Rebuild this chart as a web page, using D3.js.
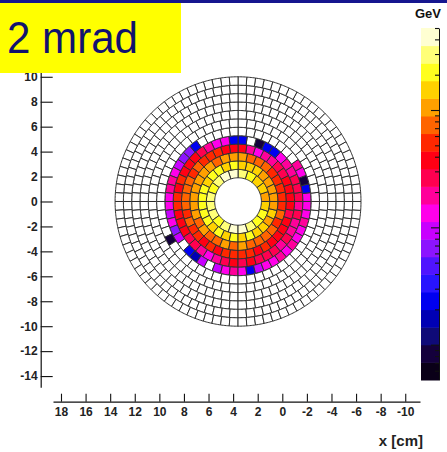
<!DOCTYPE html>
<html><head><meta charset="utf-8">
<script src="https://cdn.jsdelivr.net/npm/d3@7"></script>
<style>body{margin:0;background:#fff}svg{display:block}</style>
</head><body>
<script>
// ---------------- data ----------------
const title = "2 mrad";
const xLabel = "x [cm]";
const zUnit = "GeV";
const xTicks = [18,16,14,12,10,8,6,4,2,0,-2,-4,-6,-8,-10];
const yTicks = [10,8,6,4,2,0,-2,-4,-6,-8,-10,-12,-14];
const zRange = [0.5, 500];                 // colour axis (log), GeV
const zMajor = [1, 10, 100];
const zMinor = [0.6,0.7,0.8,0.9,2,3,4,5,6,7,8,9,20,30,40,50,60,70,80,90,200,300,400,500];
const center = [3.6, 0];                   // cm
const rInner = 1.9, rOuter = 10.0;         // cm
const segments = [20,28,32,40,44,52,56,64,72,76,84,88];   // pads per ring
// energy per pad (GeV), ring by ring, pads counter-clockwise from screen-right
const ring0 = [106,150,150,211,300,420,420,300,211,300,300,300,211,300,420,420,300,211,211,150];
const ring1 = [106,106,106,106,150,150,150,211,150,211,211,150,211,211,211,211,211,150,211,150,211,150,211,150,150,106,150,106];
const ring2 = [53,53,53,53,75,75,75,106,106,106,75,106,106,106,106,106,106,106,75,106,75,75,106,75,106,75,75,75,75,53,75,53];
const ring3 = [38,38,38,27,27,19,19,13,19,38,38,38,53,53,53,75,53,75,75,75,75,53,75,53,53,38,53,38,53,53,53,53,38,53,38,38,38,38,27,38];
const ring4 = [27,27,27,19,19,13,2.4,2.4,0.85,0,2.4,2.4,13,13,19,27,38,38,38,53,38,53,53,38,38,38,27,27,19,13,19,27,38,27,38,27,27,27,19,27,19,19,27,19];
const ring5 = [13,2.4,0.85,13,19,0,0,0,0,0,0,0,0,0,0,0,0,0,2.4,6.7,6.7,9.4,13,19,19,13,13,9.4,13,6.7,9.4,0,2.4,1.7,9.4,0,9.4,13,19,13,2.4,9.4,13,13,19,13,19,13,13,19,13,13];
const ring6 = [0,0,0,0,0,0,0,0,0,0,0,0,0,0,0,0,0,0,0,0,0,0,0,0,0,0,0,0,0,0,0,0,0.85,0,0,0,0,0,0,0,0,0,0,0,0,0,0,0,0,0,0,0,0,0,0,0];
const palette = ["#0a0018","#14003c","#0f0a78","#0000b4","#0000f0","#2814ff","#5014ff","#8c14ff","#c800ff","#ff00ea",
                 "#ff009a","#ff0050","#ff0014","#ff2800","#ff6400","#ffa000","#ffd200","#ffff1e","#ffff78","#ffffd2"];
const rings = [ring0, ring1, ring2, ring3, ring4, ring5, ring6];

// ---------------- drawing ----------------
const W = 447, H = 452;
const svg = d3.select("body").append("svg").attr("width", W).attr("height", H);
svg.append("rect").attr("width", W).attr("height", H).attr("fill", "#fff");

const x = d3.scaleLinear().domain([18.65, -11.2]).range([53, 420]);
const y = d3.scaleLinear().domain([-14.9, 10.6]).range([387.3, 69.3]);
const zLog = d3.scaleLog().domain(zRange).range([380, 28]);
const zCol = d3.scaleQuantize().domain(zRange.map(Math.log10)).range(palette);

// pads
const dr = (rOuter - rInner) / segments.length;
const cells = [];
segments.forEach((n, i) => {
  for (let j = 0; j < n; j++) {
    const e = rings[i] ? rings[i][j] : 0;
    cells.push({ i, j, n, e });
  }
});
const line = d3.line().x(d => x(d[0])).y(d => y(d[1]));
function padPath(c) {
  const r0 = rInner + c.i * dr, r1 = r0 + dr;
  const a0 = c.j * 2 * Math.PI / c.n, a1 = (c.j + 1) * 2 * Math.PI / c.n;
  const pts = [], k = 6;
  for (let s = 0; s <= k; s++) { const a = a0 + (a1 - a0) * s / k; pts.push([center[0] - r1 * Math.cos(a), center[1] + r1 * Math.sin(a)]); }
  for (let s = k; s >= 0; s--) { const a = a0 + (a1 - a0) * s / k; pts.push([center[0] - r0 * Math.cos(a), center[1] + r0 * Math.sin(a)]); }
  return line(pts) + "Z";
}
svg.append("g").selectAll("path").data(cells).join("path")
  .attr("d", padPath)
  .attr("fill", d => d.e > 0 ? zCol(Math.log10(d.e)) : "#fff")
  .attr("stroke", "#303030").attr("stroke-width", 1);

// axes
const axisFont = "'Liberation Sans', Arial, sans-serif";
const fmt = d => String(d);
const gx = svg.append("g").attr("transform", "translate(0,401.7)")
  .call(d3.axisBottom(x).tickValues(xTicks).tickFormat(fmt).tickSizeInner(-8).tickSizeOuter(0).tickPadding(6));
const gy = svg.append("g").attr("transform", "translate(40.7,0)")
  .call(d3.axisLeft(y).tickValues(yTicks).tickFormat(fmt).tickSizeInner(-12).tickSizeOuter(0).tickPadding(3));
[gx, gy].forEach(g => {
  g.selectAll("path.domain").attr("stroke", "#111").attr("stroke-width", 1.2);
  g.selectAll(".tick line").attr("stroke", "#111").attr("stroke-width", 1.1);
  g.selectAll("text").attr("font-family", axisFont).attr("font-weight", "bold").attr("font-size", 12).attr("fill", "#222");
});
svg.append("text").attr("x", 423).attr("y", 446).attr("text-anchor", "end")
  .attr("font-family", axisFont).attr("font-weight", "bold").attr("font-size", 15).attr("fill", "#222").text(xLabel);

// colour bar
const bands = d3.range(palette.length).map(b => {
  const [l0, l1] = zCol.invertExtent(palette[b]);
  return { b, v0: Math.pow(10, l0), v1: Math.pow(10, l1) };
});
svg.append("g").selectAll("rect").data(bands).join("rect")
  .attr("x", 421).attr("width", 18)
  .attr("y", d => zLog(d.v1)).attr("height", d => zLog(d.v0) - zLog(d.v1) + 0.5)
  .attr("fill", d => palette[d.b]);
const gz = svg.append("g").attr("transform", "translate(439,0)");
gz.call(d3.axisRight(zLog).tickValues(zMinor).tickSizeInner(-4).tickSizeOuter(0).tickFormat(""));
gz.append("g").call(d3.axisRight(zLog).tickValues(zMajor).tickSizeInner(-8).tickSizeOuter(0).tickFormat(""))
  .select("path.domain").remove();
gz.selectAll("path.domain").attr("stroke", "#111");
gz.selectAll(".tick line").attr("stroke", "#111").attr("stroke-width", 1.1);
svg.append("text").attr("x", 415).attr("y", 18).attr("font-family", axisFont).attr("font-weight", "bold")
  .attr("font-size", 13).attr("fill", "#111").text(zUnit);

// title box
svg.append("rect").attr("x", 0).attr("y", 0).attr("width", W).attr("height", 3).attr("fill", "#16168f");
svg.append("rect").attr("x", 0).attr("y", 3).attr("width", 181).attr("height", 70).attr("fill", "#ffff00");
svg.append("text").attr("x", 7).attr("y", 53).attr("font-family", axisFont).attr("font-size", 44)
  .attr("textLength", 131).attr("lengthAdjust", "spacingAndGlyphs").attr("fill", "#12126e").text(title);
</script>
</body></html>
